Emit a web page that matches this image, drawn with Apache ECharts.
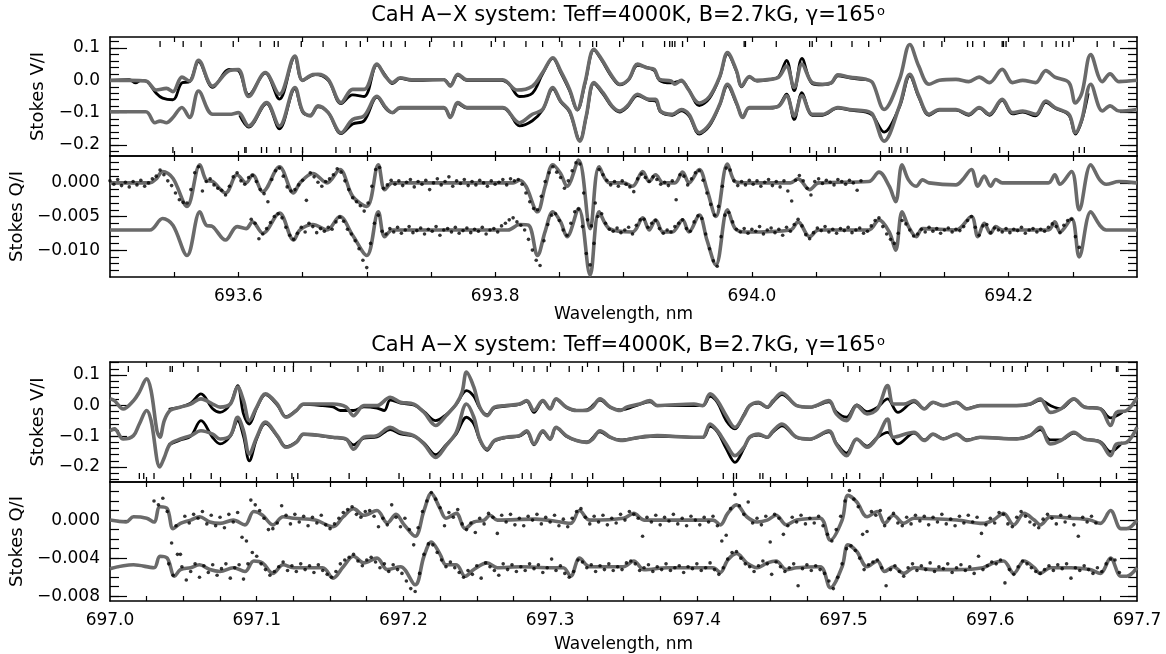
<!DOCTYPE html>
<html>
<head>
<meta charset="utf-8">
<title>CaH A-X Stokes profiles</title>
<script src="https://cdn.jsdelivr.net/npm/echarts@6.0.0/dist/echarts.min.js"></script>
<style>
  html, body { margin: 0; padding: 0; background: #fff; }
  #chart { width: 1166px; height: 654px; }
</style>
</head>
<body>
<div id="chart"></div>
<script>
// ---- panel 1 : 693.5 - 694.3 nm ----
const vModel1Up = [[693.500,0.000],[693.515,0.000],[693.528,-0.002],[693.536,-0.030],[693.544,-0.025],[693.549,-0.035],[693.556,0.010],[693.562,-0.002],[693.569,0.062],[693.580,-0.018],[693.593,0.030],[693.600,0.033],[693.608,-0.050],[693.621,0.024],[693.632,-0.043],[693.644,0.075],[693.650,0.000],[693.658,0.018],[693.662,0.019],[693.670,0.003],[693.680,-0.069],[693.689,-0.028],[693.698,-0.028],[693.708,0.050],[693.714,0.015],[693.720,-0.007],[693.726,0.008],[693.735,0.002],[693.760,0.002],[693.765,-0.018],[693.771,0.019],[693.778,0.002],[693.806,0.002],[693.809,-0.004],[693.817,-0.030],[693.829,-0.018],[693.837,0.024],[693.845,0.070],[693.851,0.029],[693.858,-0.028],[693.864,-0.090],[693.870,-0.007],[693.877,0.096],[693.883,0.065],[693.891,0.013],[693.897,-0.012],[693.904,0.003],[693.911,0.050],[693.918,0.039],[693.924,0.034],[693.928,0.003],[693.937,-0.002],[693.940,-0.012],[693.945,0.000],[693.950,-0.025],[693.959,-0.070],[693.967,-0.050],[693.975,0.012],[693.981,0.086],[693.988,0.030],[693.992,-0.018],[693.998,0.012],[694.003,0.000],[694.014,0.003],[694.021,0.010],[694.027,0.044],[694.033,-0.022],[694.039,0.050],[694.047,-0.007],[694.055,-0.012],[694.062,-0.007],[694.067,0.017],[694.076,0.010],[694.089,0.003],[694.094,-0.007],[694.103,-0.090],[694.115,0.003],[694.123,0.111],[694.130,0.044],[694.138,-0.012],[694.146,0.000],[694.159,0.003],[694.169,-0.004],[694.177,0.010],[694.185,-0.007],[694.195,0.034],[694.203,-0.007],[694.211,0.000],[694.221,-0.007],[694.229,0.030],[694.236,0.010],[694.247,-0.007],[694.252,-0.070],[694.257,-0.040],[694.264,0.080],[694.273,-0.004],[694.279,0.020],[694.286,-0.004],[694.300,0.000]];
const vData1Up = [[693.500,0.000],[693.515,0.002],[693.520,-0.008],[693.524,0.000],[693.529,-0.004],[693.536,-0.040],[693.541,-0.055],[693.549,-0.060],[693.556,-0.008],[693.562,-0.004],[693.569,0.058],[693.580,-0.022],[693.593,0.034],[693.600,0.030],[693.608,-0.045],[693.621,0.022],[693.632,-0.058],[693.644,0.072],[693.650,0.000],[693.660,0.018],[693.670,0.000],[693.680,-0.072],[693.689,-0.045],[693.698,-0.050],[693.708,0.048],[693.715,0.012],[693.720,-0.010],[693.726,0.006],[693.735,0.000],[693.760,0.002],[693.765,-0.015],[693.771,0.016],[693.778,0.000],[693.805,0.000],[693.811,-0.012],[693.819,-0.050],[693.829,-0.040],[693.837,0.020],[693.845,0.068],[693.851,0.025],[693.858,-0.032],[693.864,-0.092],[693.870,-0.010],[693.877,0.094],[693.883,0.062],[693.891,0.010],[693.897,-0.014],[693.904,0.002],[693.911,0.046],[693.918,0.040],[693.924,0.030],[693.928,0.000],[693.937,-0.008],[693.945,-0.002],[693.951,-0.030],[693.959,-0.078],[693.967,-0.055],[693.975,0.010],[693.981,0.082],[693.988,0.028],[693.992,-0.020],[693.998,0.010],[694.004,-0.002],[694.014,0.002],[694.021,0.012],[694.027,0.062],[694.033,-0.032],[694.039,0.068],[694.047,-0.010],[694.055,-0.014],[694.062,-0.008],[694.067,0.014],[694.076,0.008],[694.089,0.002]];
const vModel1Low = [[693.500,-0.097],[693.528,-0.097],[693.535,-0.131],[693.539,-0.126],[693.544,-0.131],[693.549,-0.115],[693.556,-0.084],[693.562,-0.115],[693.569,-0.033],[693.580,-0.105],[693.593,-0.105],[693.600,-0.100],[693.608,-0.141],[693.622,-0.069],[693.632,-0.141],[693.644,-0.022],[693.650,-0.095],[693.656,-0.110],[693.662,-0.079],[693.670,-0.100],[693.680,-0.162],[693.689,-0.121],[693.698,-0.110],[693.708,-0.049],[693.715,-0.085],[693.720,-0.100],[693.726,-0.084],[693.760,-0.084],[693.765,-0.115],[693.771,-0.069],[693.778,-0.084],[693.806,-0.084],[693.809,-0.090],[693.819,-0.131],[693.829,-0.105],[693.837,-0.090],[693.845,-0.022],[693.851,-0.064],[693.858,-0.095],[693.866,-0.188],[693.871,-0.110],[693.877,-0.007],[693.884,-0.038],[693.891,-0.079],[693.897,-0.095],[693.903,-0.079],[693.911,-0.043],[693.920,-0.059],[693.925,-0.059],[693.929,-0.095],[693.938,-0.105],[693.945,-0.090],[693.951,-0.105],[693.959,-0.162],[693.967,-0.136],[693.975,-0.074],[693.981,-0.012],[693.988,-0.069],[693.993,-0.115],[693.998,-0.084],[694.014,-0.084],[694.021,-0.080],[694.027,-0.048],[694.033,-0.110],[694.039,-0.048],[694.047,-0.105],[694.055,-0.105],[694.067,-0.084],[694.076,-0.090],[694.089,-0.095],[694.094,-0.105],[694.103,-0.188],[694.115,-0.079],[694.123,0.019],[694.130,-0.048],[694.138,-0.105],[694.146,-0.090],[694.159,-0.090],[694.169,-0.105],[694.177,-0.084],[694.185,-0.105],[694.195,-0.059],[694.203,-0.100],[694.211,-0.095],[694.221,-0.105],[694.229,-0.064],[694.236,-0.084],[694.247,-0.105],[694.252,-0.162],[694.257,-0.121],[694.264,-0.012],[694.273,-0.095],[694.279,-0.079],[694.286,-0.095],[694.300,-0.090]];
const vData1Low = [[693.601,-0.108],[693.608,-0.145],[693.622,-0.072],[693.632,-0.150],[693.644,-0.026],[693.650,-0.098],[693.656,-0.108],[693.662,-0.082],[693.670,-0.100],[693.680,-0.165],[693.689,-0.135],[693.698,-0.125],[693.708,-0.052],[693.715,-0.088],[693.720,-0.100],[693.726,-0.086],[693.760,-0.086],[693.765,-0.112],[693.771,-0.072],[693.778,-0.086],[693.806,-0.086],[693.811,-0.100],[693.819,-0.141],[693.829,-0.125],[693.837,-0.092],[693.845,-0.026],[693.851,-0.066],[693.858,-0.098],[693.866,-0.185],[693.871,-0.112],[693.877,-0.010],[693.884,-0.042],[693.891,-0.082],[693.897,-0.098],[693.903,-0.082],[693.911,-0.047],[693.920,-0.062],[693.925,-0.064],[693.929,-0.098],[693.938,-0.108],[693.945,-0.094],[693.951,-0.110],[693.959,-0.166],[693.967,-0.140],[693.975,-0.076],[693.981,-0.016],[693.988,-0.072],[693.993,-0.112],[693.998,-0.086],[694.014,-0.086],[694.021,-0.078],[694.027,-0.043],[694.033,-0.121],[694.039,-0.038],[694.047,-0.108],[694.055,-0.108],[694.067,-0.086],[694.076,-0.092],[694.089,-0.098],[694.094,-0.108],[694.103,-0.160],[694.115,-0.082],[694.123,0.014],[694.130,-0.052],[694.138,-0.108],[694.146,-0.092],[694.159,-0.092],[694.169,-0.108],[694.177,-0.086],[694.185,-0.108],[694.195,-0.062],[694.203,-0.104],[694.211,-0.098],[694.221,-0.110],[694.229,-0.068],[694.236,-0.086],[694.247,-0.108],[694.252,-0.166],[694.257,-0.125],[694.262,-0.040]];

// Stokes Q/I in units of 1e-3
const qModel1Up = [[693.500,0],[693.531,0],[693.536,0.6],[693.541,1.7],[693.549,0.7],[693.560,-3.5],[693.570,2.7],[693.575,0.4],[693.580,0.2],[693.590,-1.5],[693.599,1.2],[693.606,0],[693.611,1.2],[693.619,-1.3],[693.632,2.4],[693.643,-1.5],[693.648,0],[693.658,1.4],[693.669,0],[693.679,2.0],[693.689,-2.0],[693.700,-3.5],[693.709,2.7],[693.714,-1.0],[693.720,0],[693.760,0],[693.814,0],[693.819,0.4],[693.824,-0.5],[693.833,-4.3],[693.839,-0.5],[693.845,2.7],[693.851,1.4],[693.856,-0.5],[693.865,3.4],[693.874,-6.8],[693.881,2.4],[693.889,0],[693.900,0],[693.907,-0.5],[693.915,1.7],[693.920,0.2],[693.925,1.2],[693.931,0],[693.940,0],[693.946,1.6],[693.951,0],[693.959,2.0],[693.965,-1.0],[693.972,-5.0],[693.981,2.8],[693.987,0.2],[693.995,0],[694.030,0],[694.036,0.6],[694.045,-1.0],[694.052,0],[694.091,0.2],[694.099,1.6],[694.107,-0.5],[694.112,-2.8],[694.117,2.7],[694.122,0.45],[694.128,-0.5],[694.133,0.45],[694.138,0],[694.159,-0.3],[694.164,0.45],[694.171,2.0],[694.176,-0.5],[694.181,1.0],[694.186,-0.5],[694.190,0.5],[694.195,0],[694.231,0],[694.236,1.2],[694.240,-0.2],[694.249,1.7],[694.255,-4.0],[694.264,2.7],[694.271,0.45],[694.276,-0.2],[694.286,0.2],[694.300,0]];
const qModel1Low = [[693.500,-7.0],[693.531,-7.0],[693.541,-5.3],[693.549,-6.3],[693.560,-10.8],[693.570,-4.3],[693.575,-6.3],[693.580,-6.5],[693.590,-8.5],[693.599,-6.5],[693.606,-6.8],[693.611,-5.8],[693.619,-7.5],[693.632,-4.5],[693.643,-8.5],[693.648,-7.0],[693.658,-6.2],[693.669,-7.0],[693.679,-5.0],[693.689,-7.8],[693.700,-10.8],[693.709,-4.3],[693.714,-8.0],[693.720,-7.0],[693.810,-7.0],[693.819,-6.2],[693.826,-6.3],[693.833,-10.8],[693.839,-7.2],[693.845,-4.3],[693.851,-5.8],[693.856,-8.0],[693.865,-3.8],[693.874,-13.7],[693.881,-4.3],[693.889,-6.8],[693.907,-7.3],[693.915,-5.2],[693.920,-7.0],[693.925,-5.5],[693.931,-7.3],[693.938,-7.3],[693.946,-5.5],[693.951,-7.3],[693.959,-4.8],[693.965,-8.5],[693.972,-12.2],[693.981,-4.0],[693.987,-6.8],[693.995,-7.3],[694.030,-7.0],[694.036,-5.8],[694.045,-8.0],[694.052,-7.0],[694.091,-7.0],[694.099,-5.5],[694.107,-7.3],[694.112,-10.0],[694.117,-4.3],[694.122,-6.5],[694.128,-8.0],[694.133,-6.8],[694.159,-7.0],[694.171,-5.0],[694.176,-8.0],[694.181,-6.0],[694.186,-7.5],[694.190,-6.5],[694.195,-7.0],[694.231,-7.0],[694.236,-5.8],[694.240,-7.3],[694.249,-5.3],[694.255,-11.0],[694.264,-4.3],[694.271,-6.3],[694.276,-7.0],[694.300,-7.0]];
// observed Q/I points, sampled every 0.003 nm
const qData1UpStart = 693.500;
const qData1Up = [0.3,-0.2,0.5,-0.4,0.1,-0.6,0.2,-0.3,0.4,-0.5,0.0,0.6,1.0,1.9,1.2,0.3,-0.4,-1.5,-2.5,-2.9,-3.0,-1.0,1.5,2.4,-1.2,0.2,0.6,-0.3,-0.8,-1.1,-1.8,-0.5,0.9,1.5,0.3,-0.2,0.8,1.1,0.2,-1.0,-1.6,-2.8,0.5,1.8,2.2,1.0,-0.6,-1.2,-1.0,-0.3,0.4,-2.6,1.5,0.9,0.1,-0.5,0.2,0.6,1.2,2.1,1.6,0.3,-1.0,-2.2,-2.8,-3.4,-4.2,-3.0,-0.5,2.0,2.3,-0.8,-0.3,0.4,-0.2,0.3,-0.4,0.1,0.5,-0.6,0.2,-0.2,0.4,-1.0,0.0,0.6,-0.3,0.2,0.9,-0.5,0.3,-0.1,0.5,-0.4,0.2,-0.3,0.4,0.0,-0.5,0.3,-0.2,0.1,0.5,-0.3,0.6,0.3,0.5,-0.2,-1.5,-2.8,-3.8,-4.0,-2.0,0.2,1.5,2.4,1.6,0.8,-0.8,0.3,1.8,3.0,2.8,-1.5,-5.5,-6.4,-3.0,2.0,1.2,0.4,-0.3,0.2,-0.5,0.3,-0.2,-0.6,-1.3,0.6,1.3,0.8,0.2,0.9,0.5,-0.2,0.1,-0.4,0.3,-2.5,1.2,1.0,-0.3,0.6,1.5,1.8,0.4,-1.5,-3.2,-4.8,-3.5,-0.5,2.2,1.9,0.3,-0.4,0.2,-0.3,0.4,-0.2,0.3,-0.5,0.1,0.5,-0.4,0.2,-0.6,0.3,-1.2,-2.7,0.4,1.1,0.3,-0.8,-1.8,0.2,0.6,-0.1,0.4,0.1,-0.3,0.5,0.2,-0.2,0.4,0.0,-1.1,0.3];
const qData1LowStart = 693.610;
const qData1Low = [-5.4,-6.0,-8.3,-7.6,-6.8,-5.9,-5.0,-4.6,-5.2,-6.6,-7.8,-8.4,-7.5,-6.6,-7.3,-6.0,-6.5,-7.4,-6.8,-7.2,-6.6,-6.9,-5.8,-5.1,-5.7,-6.9,-7.6,-8.6,-9.8,-11.5,-12.6,-9.0,-6.0,-4.8,-7.2,-7.6,-6.8,-7.3,-6.6,-7.5,-7.0,-6.5,-7.4,-7.1,-6.7,-7.6,-6.9,-7.2,-6.5,-7.8,-7.0,-6.8,-7.3,-6.6,-7.5,-7.1,-6.7,-7.4,-6.9,-7.2,-6.6,-7.6,-7.0,-6.8,-7.3,-6.4,-6.0,-5.5,-5.2,-5.8,-6.3,-7.0,-8.4,-10.0,-11.5,-12.3,-8.6,-6.2,-4.8,-4.6,-5.6,-7.0,-7.8,-6.0,-4.3,-3.9,-6.5,-10.5,-12.2,-9.0,-5.0,-4.6,-6.0,-6.9,-7.2,-6.7,-7.4,-7.0,-6.6,-7.6,-6.3,-5.5,-5.4,-6.6,-6.0,-5.6,-6.8,-7.5,-7.0,-7.3,-6.5,-6.0,-5.5,-6.8,-7.2,-5.8,-4.9,-5.3,-7.6,-9.8,-11.6,-12.4,-8.0,-4.8,-4.4,-5.8,-6.9,-7.3,-6.8,-7.5,-6.9,-7.2,-6.5,-7.6,-7.0,-6.7,-7.4,-6.9,-7.8,-6.6,-7.2,-6.2,-5.4,-6.4,-7.7,-8.3,-7.4,-6.7,-7.1,-6.5,-7.3,-6.9,-7.5,-6.8,-7.1,-6.6,-7.4,-7.0,-6.7,-7.5,-7.2,-6.4,-5.6,-5.2,-6.5,-7.6,-8.4,-9.0,-7.5,-5.6,-6.1,-7.0,-7.9,-7.6,-6.9,-7.3,-6.6,-7.2,-6.8,-7.5,-7.0,-6.7,-7.3,-6.9,-7.1,-6.5,-5.6,-5.0,-6.6,-7.8,-6.4,-6.2,-7.4,-6.7,-7.0,-7.3,-6.8,-7.4,-6.9,-7.1,-6.6,-7.5,-7.0,-6.8,-7.3,-6.9,-7.2,-6.6,-6.1,-6.5,-7.4,-6.3,-5.6,-5.4,-8.0,-9.6];
const qStep1 = 0.003;

const linesTop1 = [693.539,693.557,693.571,693.596,693.617,693.628,693.631,693.649,693.666,693.684,693.695,693.713,693.719,693.730,693.749,693.768,693.774,693.797,693.807,693.824,693.837,693.852,693.866,693.876,693.879,693.897,693.915,693.932,693.936,693.938,693.940,693.946,693.963,693.994,693.995,694.019,694.045,694.047,694.062,694.078,694.091,694.134,694.148,694.168,694.172,694.181,694.195,694.196,694.198,694.212,694.226,694.237,694.242,694.247,694.269,694.282];
const linesBot1 = [693.549,693.564,693.605,693.606,693.618,693.622,693.632,693.641,693.650,693.676,693.687,693.703,693.827,693.840,693.865,693.874,693.888,693.909,693.920,693.932,693.943,693.966,693.977,694.030,694.045,694.060,694.065,694.107,694.109,694.116,694.121,694.171,694.193,694.255,694.259];

// ---- panel 2 : 697.0 - 697.7 nm ----
const vModel2Up = [[697.000,0.022],[697.003,0.016],[697.009,-0.011],[697.016,0.016],[697.020,0.044],[697.025,0.087],[697.028,0.049],[697.032,-0.082],[697.034,-0.103],[697.037,-0.049],[697.041,-0.016],[697.048,-0.005],[697.055,0.005],[697.062,0.022],[697.070,0.005],[697.075,-0.005],[697.082,0.005],[697.087,0.060],[697.091,0.016],[697.095,-0.049],[697.100,-0.005],[697.106,0.038],[697.114,0.005],[697.120,-0.038],[697.127,-0.016],[697.132,0.005],[697.152,0.005],[697.161,-0.005],[697.166,-0.033],[697.173,0.000],[697.182,0.000],[697.191,0.027],[697.198,0.011],[697.207,0.005],[697.214,-0.022],[697.222,-0.065],[697.229,-0.033],[697.236,0.005],[697.240,0.044],[697.243,0.109],[697.248,0.060],[697.252,-0.005],[697.257,-0.033],[697.262,-0.005],[697.270,0.000],[697.279,0.005],[697.284,0.016],[697.289,-0.016],[697.295,0.016],[697.300,-0.011],[697.304,0.022],[697.311,-0.005],[697.318,-0.016],[697.325,-0.016],[697.329,-0.005],[697.334,0.022],[697.341,-0.005],[697.348,-0.016],[697.352,-0.005],[697.361,0.005],[697.368,0.016],[697.373,0.000],[697.398,0.005],[697.404,0.000],[697.409,0.038],[697.414,0.016],[697.420,-0.033],[697.426,-0.071],[697.432,-0.033],[697.436,0.000],[697.442,0.011],[697.448,-0.005],[697.452,0.016],[697.458,0.041],[697.468,0.000],[697.477,-0.005],[697.490,0.016],[697.495,-0.027],[697.502,-0.049],[697.509,0.000],[697.516,-0.027],[697.523,-0.011],[697.530,0.065],[697.534,0.005],[697.541,0.005],[697.548,0.016],[697.555,-0.011],[697.561,0.011],[697.568,0.000],[697.577,0.011],[697.584,-0.011],[697.593,0.000],[697.618,0.000],[697.627,0.005],[697.634,0.022],[697.641,-0.022],[697.648,-0.011],[697.657,0.022],[697.664,-0.005],[697.675,-0.011],[697.682,-0.065],[697.686,-0.022],[697.693,-0.016],[697.700,0.027]];
const vData2Up = [[697.040,-0.012],[697.048,-0.005],[697.055,0.008],[697.062,0.038],[697.070,-0.010],[697.075,-0.022],[697.082,0.005],[697.087,0.065],[697.091,-0.027],[697.095,-0.060],[697.100,-0.008],[697.106,0.036],[697.114,0.002],[697.120,-0.036],[697.127,-0.016],[697.132,0.004],[697.145,0.000],[697.152,-0.004],[697.157,-0.016],[697.166,-0.016],[697.173,-0.004],[697.182,-0.008],[697.187,-0.016],[697.191,0.018],[697.198,0.008],[697.207,0.002],[697.214,-0.020],[697.222,-0.049],[697.229,-0.030],[697.236,0.004],[697.243,0.049],[697.248,0.030],[697.252,-0.008],[697.257,-0.030],[697.262,-0.008],[697.270,-0.002],[697.279,0.004],[697.284,0.014],[697.289,-0.022],[697.295,0.014],[697.300,-0.010],[697.304,0.020],[697.311,-0.006],[697.318,-0.016],[697.325,-0.014],[697.334,0.018],[697.341,-0.006],[697.348,-0.014],[697.361,0.004],[697.368,0.012],[697.373,0.000],[697.404,0.000],[697.409,0.030],[697.414,0.010],[697.420,-0.049],[697.426,-0.076],[697.432,-0.030],[697.436,0.000],[697.442,0.008],[697.448,-0.006],[697.452,0.012],[697.458,0.036],[697.468,0.000],[697.477,-0.006],[697.490,0.012],[697.495,-0.020],[697.502,-0.038],[697.509,0.002],[697.516,-0.020],[697.523,-0.006],[697.530,0.022],[697.537,-0.022],[697.548,0.012],[697.555,-0.010],[697.561,0.010],[697.568,0.000],[697.577,0.010],[697.584,-0.010],[697.593,0.000],[697.618,0.000],[697.627,0.004],[697.634,0.018],[697.641,0.000],[697.648,-0.010],[697.657,0.020],[697.664,-0.004],[697.675,-0.010],[697.682,-0.040],[697.690,-0.022]];
const vModel2Low = [[697.000,-0.082],[697.003,-0.076],[697.009,-0.109],[697.016,-0.098],[697.020,-0.060],[697.025,-0.016],[697.028,-0.049],[697.034,-0.200],[697.037,-0.169],[697.041,-0.125],[697.048,-0.109],[697.055,-0.098],[697.062,-0.082],[697.070,-0.093],[697.075,-0.109],[697.082,-0.098],[697.087,-0.038],[697.091,-0.082],[697.095,-0.158],[697.100,-0.103],[697.106,-0.054],[697.114,-0.098],[697.120,-0.136],[697.127,-0.120],[697.132,-0.093],[697.152,-0.103],[697.161,-0.109],[697.166,-0.142],[697.173,-0.103],[697.182,-0.098],[697.191,-0.071],[697.198,-0.087],[697.207,-0.098],[697.214,-0.125],[697.222,-0.169],[697.229,-0.131],[697.236,-0.087],[697.243,0.005],[697.248,-0.038],[697.252,-0.109],[697.257,-0.142],[697.262,-0.114],[697.270,-0.103],[697.279,-0.098],[697.284,-0.082],[697.289,-0.125],[697.295,-0.082],[697.300,-0.109],[697.304,-0.071],[697.311,-0.098],[697.318,-0.114],[697.325,-0.120],[697.329,-0.109],[697.334,-0.082],[697.341,-0.103],[697.348,-0.114],[697.361,-0.103],[697.373,-0.098],[697.398,-0.103],[697.404,-0.103],[697.409,-0.060],[697.414,-0.082],[697.420,-0.125],[697.426,-0.163],[697.432,-0.136],[697.436,-0.103],[697.442,-0.093],[697.448,-0.103],[697.452,-0.082],[697.458,-0.060],[697.468,-0.103],[697.477,-0.109],[697.490,-0.082],[697.495,-0.125],[697.502,-0.163],[697.509,-0.109],[697.516,-0.136],[697.523,-0.103],[697.530,-0.044],[697.534,-0.103],[697.548,-0.087],[697.555,-0.114],[697.561,-0.093],[697.568,-0.109],[697.577,-0.093],[697.584,-0.114],[697.593,-0.103],[697.618,-0.109],[697.627,-0.098],[697.634,-0.071],[697.641,-0.125],[697.648,-0.114],[697.657,-0.087],[697.664,-0.109],[697.675,-0.120],[697.682,-0.163],[697.686,-0.125],[697.693,-0.120],[697.700,-0.071]];
const vData2Low = [[697.040,-0.128],[697.048,-0.112],[697.055,-0.100],[697.062,-0.049],[697.070,-0.104],[697.075,-0.125],[697.082,-0.100],[697.087,-0.049],[697.091,-0.100],[697.095,-0.180],[697.100,-0.108],[697.106,-0.058],[697.114,-0.100],[697.120,-0.134],[697.127,-0.118],[697.132,-0.094],[697.152,-0.104],[697.161,-0.110],[697.166,-0.128],[697.173,-0.106],[697.182,-0.102],[697.191,-0.078],[697.198,-0.092],[697.207,-0.100],[697.214,-0.122],[697.222,-0.160],[697.229,-0.128],[697.236,-0.092],[697.243,-0.038],[697.248,-0.060],[697.252,-0.112],[697.257,-0.146],[697.262,-0.116],[697.270,-0.104],[697.279,-0.100],[697.284,-0.086],[697.289,-0.128],[697.295,-0.086],[697.300,-0.110],[697.304,-0.072],[697.311,-0.100],[697.318,-0.114],[697.325,-0.118],[697.334,-0.086],[697.341,-0.104],[697.348,-0.112],[697.361,-0.104],[697.373,-0.100],[697.404,-0.104],[697.409,-0.068],[697.414,-0.086],[697.420,-0.140],[697.426,-0.185],[697.432,-0.140],[697.436,-0.104],[697.442,-0.096],[697.448,-0.104],[697.452,-0.086],[697.458,-0.066],[697.468,-0.104],[697.477,-0.110],[697.490,-0.086],[697.495,-0.122],[697.502,-0.155],[697.509,-0.110],[697.516,-0.132],[697.523,-0.104],[697.530,-0.087],[697.537,-0.125],[697.548,-0.090],[697.555,-0.112],[697.561,-0.094],[697.568,-0.108],[697.577,-0.094],[697.584,-0.112],[697.593,-0.104],[697.618,-0.108],[697.627,-0.098],[697.634,-0.078],[697.641,-0.112],[697.648,-0.112],[697.657,-0.090],[697.664,-0.108],[697.675,-0.118],[697.682,-0.150],[697.690,-0.120]];

const qModel2Up = [[697.000,0],[697.011,-0.2],[697.016,0.35],[697.025,0.2],[697.030,-0.2],[697.034,1.4],[697.039,1.2],[697.043,-0.9],[697.048,-0.35],[697.055,0],[697.061,0.35],[697.068,-0.2],[697.075,-0.35],[697.084,0],[697.092,-0.5],[697.098,0.9],[697.104,0.5],[697.111,-0.5],[697.118,0.35],[697.125,0.2],[697.140,0],[697.152,-0.7],[697.159,0.35],[697.166,1.2],[697.173,0.5],[697.182,1.0],[697.189,-0.3],[697.195,0.6],[697.200,-0.4],[697.208,-1.7],[697.214,1.0],[697.219,2.8],[697.225,1.2],[697.229,0.2],[697.236,0.7],[697.242,-0.9],[697.248,-0.2],[697.255,0],[697.259,0.5],[697.264,0],[697.290,0.1],[697.307,-0.2],[697.314,-0.35],[697.320,1.0],[697.327,0],[697.350,0.2],[697.357,0.7],[697.364,0],[697.411,0],[697.416,-0.5],[697.421,0.7],[697.427,1.6],[697.434,0.35],[697.441,-0.2],[697.448,0],[697.454,0.5],[697.461,-0.5],[697.468,0],[697.484,0.2],[697.491,-2.1],[697.499,0],[697.503,2.6],[697.509,1.9],[697.516,0.35],[697.523,0.9],[697.528,-0.35],[697.534,0.5],[697.541,-0.35],[697.548,0.2],[697.577,0],[697.595,-0.35],[697.602,0],[697.609,0.7],[697.616,-0.5],[697.623,0.7],[697.630,0],[697.634,-0.5],[697.641,0.35],[697.655,0.2],[697.668,0],[697.675,-0.35],[697.682,1.0],[697.689,-0.9],[697.693,-0.9],[697.700,0]];
const qModel2Low = [[697.000,-5.1],[697.016,-4.7],[697.030,-5.0],[697.034,-3.8],[697.039,-4.0],[697.044,-5.9],[697.048,-5.2],[697.055,-5.0],[697.061,-4.7],[697.068,-5.2],[697.075,-5.4],[697.084,-5.0],[697.092,-5.4],[697.098,-4.3],[697.104,-4.5],[697.111,-5.6],[697.118,-4.7],[697.125,-5.0],[697.145,-5.0],[697.152,-6.1],[697.159,-4.9],[697.166,-3.8],[697.173,-4.5],[697.182,-4.0],[697.189,-5.2],[697.198,-4.9],[697.208,-6.8],[697.214,-3.8],[697.219,-2.3],[697.225,-3.6],[697.229,-4.7],[697.236,-4.7],[697.242,-5.9],[697.248,-5.2],[697.257,-4.5],[697.264,-5.0],[697.280,-4.9],[697.300,-5.0],[697.309,-5.0],[697.314,-5.9],[697.320,-4.0],[697.327,-4.9],[697.350,-4.9],[697.357,-4.3],[697.364,-5.2],[697.380,-5.0],[697.411,-5.0],[697.416,-5.5],[697.421,-4.2],[697.427,-3.5],[697.434,-4.5],[697.441,-5.0],[697.448,-4.5],[697.454,-4.3],[697.461,-5.2],[697.468,-5.0],[697.484,-4.9],[697.491,-7.1],[697.499,-4.9],[697.503,-2.6],[697.509,-3.3],[697.516,-4.9],[697.523,-4.3],[697.528,-5.4],[697.534,-4.9],[697.541,-5.6],[697.548,-5.0],[697.561,-5.2],[697.577,-5.2],[697.595,-5.0],[697.602,-4.5],[697.609,-4.3],[697.616,-5.6],[697.623,-4.3],[697.630,-5.0],[697.634,-5.6],[697.641,-5.0],[697.655,-5.0],[697.668,-5.2],[697.675,-5.6],[697.682,-4.0],[697.689,-5.9],[697.693,-5.9],[697.700,-5.0]];
const qData2UpStart = 697.030;
const qData2Up = [2.0,1.6,2.3,0.9,-2.4,-0.6,-3.6,0.4,-0.3,0.6,0.2,0.9,-0.4,0.5,-0.6,0.3,-0.8,0.6,-0.2,0.8,-1.8,-2.2,2.1,1.6,1.0,0.2,-1.0,-0.9,-0.3,1.5,0.5,-0.4,0.6,-0.2,0.4,-0.6,0.3,-0.3,0.5,-0.5,-0.9,-0.4,0.2,0.8,1.1,1.4,0.6,0.3,0.9,1.0,0.4,-0.7,0.2,-0.5,1.6,0.3,-0.7,0.2,-1.0,-2.6,-0.8,0.9,2.0,2.9,2.2,1.3,-0.6,0.8,0.3,1.1,-0.4,-1.0,-0.3,-1.3,0.2,-0.4,0.7,0.3,-1.4,0.5,-0.2,0.6,-0.5,0.2,-0.6,0.4,0.0,0.6,-0.4,0.3,-0.2,0.5,-0.6,0.1,-0.7,0.2,0.9,1.2,0.3,-0.4,0.4,-0.2,0.5,-0.5,0.2,-0.3,0.6,0.0,0.9,0.6,0.2,-1.7,0.3,-0.2,0.5,-0.5,0.3,-0.1,0.6,-0.4,0.2,-0.6,0.4,0.0,-0.5,0.3,-0.2,0.4,-0.6,-2.2,-1.6,1.2,2.7,1.5,0.6,1.9,-0.3,0.2,-0.5,0.4,-2.3,0.6,0.2,-1.5,-0.6,0.3,-0.2,0.5,-0.4,0.2,-0.3,0.4,-0.6,-1.5,-2.2,-1.0,0.4,2.0,3.1,2.2,1.4,-1.5,-1.2,0.9,0.5,1.0,-0.6,0.2,0.7,-0.3,-0.6,0.3,-0.4,0.5,-0.1,0.4,-0.5,0.3,-0.2,0.6,-0.4,0.1,-0.6,0.4,-0.3,0.5,-0.2,0.3,-1.4,-0.5,0.2,-0.3,0.8,0.6,-0.4,-0.7,0.3,0.9,0.4,-0.2,-0.5,-0.8,0.1,0.6,0.2,-0.4,0.5,-0.2,0.4,-0.5,-1.7,0.3,-0.2,0.4,-0.3];
const qData2LowStart = 697.040;
const qData2Low = [-4.6,-5.8,-3.6,-4.9,-6.3,-5.4,-4.6,-6.0,-4.8,-5.5,-4.7,-5.8,-5.1,-4.6,-6.1,-5.0,-4.7,-6.2,-4.6,-3.4,-3.8,-4.6,-5.2,-5.8,-5.4,-4.9,-4.4,-5.3,-4.8,-5.4,-4.6,-5.2,-4.8,-5.5,-4.7,-5.3,-5.7,-6.0,-5.4,-4.6,-4.2,-3.9,-3.6,-4.3,-4.8,-4.2,-3.9,-4.4,-5.0,-4.6,-5.4,-4.7,-5.2,-5.6,-6.4,-7.2,-7.5,-5.6,-3.6,-2.5,-2.6,-3.4,-4.2,-4.9,-4.4,-5.0,-5.5,-6.0,-5.3,-5.7,-4.8,-6.1,-4.5,-4.9,-5.3,-5.8,-4.6,-5.2,-4.7,-5.4,-4.9,-5.3,-4.6,-5.1,-4.7,-5.5,-5.0,-4.1,-5.3,-4.8,-5.6,-6.0,-5.4,-4.2,-4.4,-5.0,-4.7,-5.4,-4.8,-5.2,-4.6,-5.3,-4.9,-5.2,-4.5,-4.3,-4.6,-5.3,-5.0,-4.7,-5.4,-4.9,-5.2,-4.6,-5.3,-5.0,-4.8,-5.5,-4.9,-5.1,-4.6,-5.3,-5.0,-4.5,-5.2,-5.7,-5.0,-4.1,-3.4,-3.3,-4.0,-4.6,-4.9,-5.4,-4.8,-4.3,-4.6,-5.7,-4.4,-4.9,-5.4,-5.0,-4.6,-6.9,-5.1,-4.7,-5.3,-4.8,-5.2,-5.6,-6.4,-7.2,-6.0,-4.6,-3.0,-2.7,-3.2,-4.0,-5.2,-4.7,-4.4,-4.2,-5.0,-6.9,-5.2,-4.8,-5.4,-5.9,-5.0,-4.6,-5.3,-4.8,-5.2,-4.5,-5.4,-4.9,-5.1,-4.6,-5.5,-5.0,-4.7,-5.3,-4.9,-5.6,-3.8,-5.2,-4.8,-4.4,-4.6,-4.2,-6.6,-5.2,-5.7,-4.9,-4.3,-4.6,-5.0,-5.4,-5.6,-5.2,-4.8,-5.3,-4.7,-5.1,-4.6,-6.1,-5.0,-5.3,-4.8,-5.2,-5.6,-5.0,-5.4,-4.6,-4.1,-4.2,-5.5];
const qStep2 = 0.003;

const linesTop2 = [697.0125,697.041,697.0425,697.060,697.093,697.112,697.119,697.125,697.137,697.169,697.184,697.186,697.207,697.218,697.232,697.259,697.281,697.289,697.298,697.313,697.322,697.333,697.350,697.357,697.373,697.390,697.417,697.437,697.454,697.503,697.511,697.532,697.544,697.561,697.568,697.584,697.609,697.615,697.624,697.639,697.669,697.686,697.687];
const linesBot2 = [697.020,697.023,697.030,697.055,697.069,697.093,697.114,697.124,697.128,697.163,697.197,697.218,697.234,697.240,697.254,697.267,697.281,697.287,697.301,697.315,697.329,697.418,697.425,697.427,697.443,697.445,697.461,697.492,697.502,697.511,697.527,697.560,697.646,697.686];

// axis ticks / labels
const xLabels1 = [693.6, 693.8, 694.0, 694.2];
const xTicks1 = [693.55,693.6,693.65,693.7,693.75,693.8,693.85,693.9,693.95,694.0,694.05,694.1,694.15,694.2,694.25];
const xLabels2 = [697.0,697.1,697.2,697.3,697.4,697.5,697.6,697.7];
const xTicks2 = [697.025,697.05,697.075,697.1,697.125,697.15,697.175,697.2,697.225,697.25,697.275,697.3,697.325,697.35,697.375,697.4,697.425,697.45,697.475,697.5,697.525,697.55,697.575,697.6,697.625,697.65,697.675];
const vMajor = [-0.2, -0.1, 0.0, 0.1];
const vMinor = [-0.22,-0.2,-0.18,-0.16,-0.14,-0.12,-0.1,-0.08,-0.06,-0.04,-0.02,0,0.02,0.04,0.06,0.08,0.1,0.12];
const vMinor2 = [-0.24,-0.22,-0.2,-0.18,-0.16,-0.14,-0.12,-0.1,-0.08,-0.06,-0.04,-0.02,0,0.02,0.04,0.06,0.08,0.1,0.12,0.14];
const q1Major = [-10, -5, 0];
const q1Minor = [-13,-12,-11,-10,-9,-8,-7,-6,-5,-4,-3,-2,-1,0,1,2,3];
const q2Major = [-8, -4, 0];
const q2Minor = [-8,-7,-6,-5,-4,-3,-2,-1,0,1,2,3];

const TITLE = 'CaH A\u2212X system: Teff=4000K, B=2.7kG, \u03b3=165{o|o}';
const FONT = 'DejaVu Sans';
const GRAY = '#6a6a6a';

const chart = echarts.init(document.getElementById('chart'));

const minus = s => s.replace('-', '\u2212');
const grids = [
  {left: 110, top: 37, width: 1027, height: 119},
  {left: 110, top: 156, width: 1027, height: 121},
  {left: 110, top: 362, width: 1027, height: 120},
  {left: 110, top: 482, width: 1027, height: 120}
];

function xAxesFor(g, min, max, ticks, labels, showLabels) {
  const base = {
    type: 'value', gridIndex: g, min: min, max: max,
    axisLine: {show: true, onZero: false, lineStyle: {color: '#000', width: 1.6}},
    splitLine: {show: false}
  };
  return [
    Object.assign({}, base, {
      position: 'bottom',
      axisTick: {show: true, inside: true, length: 5, customValues: ticks, lineStyle: {color: '#000', width: 1.2}},
      axisLabel: {show: showLabels, customValues: labels, margin: 11, color: '#000',
        fontFamily: FONT, fontSize: 17, formatter: v => v.toFixed(1)},
      name: showLabels ? 'Wavelength, nm' : '', nameLocation: 'middle', nameGap: g === 1 ? 29 : 35,
      nameTextStyle: {fontFamily: FONT, fontSize: 17, color: '#000'}
    }),
    Object.assign({}, base, {
      position: 'top',
      axisTick: {show: true, inside: true, length: 5, customValues: ticks, lineStyle: {color: '#000', width: 1.2}},
      axisLabel: {show: false}
    })
  ];
}

function yAxesFor(g, min, max, major, minor, fmt, name, nameGap) {
  const base = {type: 'value', gridIndex: g, min: min, max: max, splitLine: {show: false}};
  const line = {show: true, onZero: false, lineStyle: {color: '#000', width: 1.6}};
  const tick = (vals, len) => ({show: true, inside: true, length: len, customValues: vals, lineStyle: {color: '#000', width: 1.2}});
  return [
    Object.assign({}, base, {position: 'left', axisLine: line, axisTick: tick(major, 17),
      axisLabel: {show: true, customValues: major, margin: 10, color: '#000', fontFamily: FONT, fontSize: 17, formatter: fmt},
      name: name, nameLocation: 'middle', nameGap: nameGap, nameRotate: 90,
      nameTextStyle: {fontFamily: FONT, fontSize: 18, color: '#000'}}),
    Object.assign({}, base, {position: 'left', axisLine: {show: false}, axisTick: tick(minor, 9), axisLabel: {show: false}}),
    Object.assign({}, base, {position: 'right', axisLine: line, axisTick: tick(major, 17), axisLabel: {show: false}}),
    Object.assign({}, base, {position: 'right', axisLine: {show: false}, axisTick: tick(minor, 9), axisLabel: {show: false}})
  ];
}

const fmtV = v => minus(v.toFixed(1));
const fmtQ = v => minus((v / 1000).toFixed(3));

const xAxis = [].concat(
  xAxesFor(0, 693.5, 694.3, xTicks1, xLabels1, false),
  xAxesFor(1, 693.5, 694.3, xTicks1, xLabels1, true),
  xAxesFor(2, 697.0, 697.7, xTicks2, xLabels2, false),
  xAxesFor(3, 697.0, 697.7, xTicks2, xLabels2, true)
);
const yAxis = [].concat(
  yAxesFor(0, -0.234, 0.134, vMajor, vMinor, fmtV, 'Stokes V/I', 58),
  yAxesFor(1, -14, 4, q1Major, q1Minor, fmtQ, 'Stokes Q/I', 83),
  yAxesFor(2, -0.249, 0.142, vMajor, vMinor2, fmtV, 'Stokes V/I', 58),
  yAxesFor(3, -8.5, 4, q2Major, q2Minor, fmtQ, 'Stokes Q/I', 83)
);

const sampled = (start, step, vals) => vals.map((v, i) => [+(start + i * step).toFixed(4), v]);

function model(g, data) {
  return {type: 'line', xAxisIndex: 2 * g, yAxisIndex: 4 * g, data: data, smooth: 0.35,
    symbol: 'none', z: 3, lineStyle: {color: GRAY, width: 3.6}};
}
function obsLine(g, data) {
  return {type: 'line', xAxisIndex: 2 * g, yAxisIndex: 4 * g, data: data, smooth: 0.35,
    symbol: 'none', z: 2, lineStyle: {color: '#000', width: 2.8}};
}
function obsDots(g, data) {
  return {type: 'scatter', xAxisIndex: 2 * g, yAxisIndex: 4 * g, data: data,
    symbol: 'circle', symbolSize: 3.6, z: 4, itemStyle: {color: '#000'}};
}
function lineMarks(g, list, atTop) {
  return {type: 'custom', xAxisIndex: 2 * g, yAxisIndex: 4 * g, z: 5,
    data: list.map(v => [v, 0]),
    renderItem: (params, api) => {
      const x = api.coord([api.value(0), 0])[0];
      const cs = params.coordSys;
      const y1 = atTop ? cs.y + 4 : cs.y + cs.height - 9;
      return {type: 'line', shape: {x1: x, y1: y1, x2: x, y2: y1 + 6},
        style: {stroke: '#000', lineWidth: 1.3}};
    }};
}

const titleStyle = {fontFamily: FONT, fontSize: 21, fontWeight: 'normal', color: '#000',
  rich: {o: {fontFamily: FONT, fontSize: 13, color: '#000', padding: [0, 0, 9, 1]}}};

chart.setOption({
  animation: false,
  backgroundColor: '#fff',
  title: [
    {text: TITLE, left: 623, top: 0, textAlign: 'center', textStyle: titleStyle},
    {text: TITLE, left: 623, top: 330, textAlign: 'center', textStyle: titleStyle}
  ],
  grid: grids,
  xAxis: xAxis,
  yAxis: yAxis,
  series: [
    obsLine(0, vData1Up), obsLine(0, vData1Low),
    model(0, vModel1Up), model(0, vModel1Low),
    lineMarks(0, linesTop1, true), lineMarks(0, linesBot1, false),
    model(1, qModel1Up), model(1, qModel1Low),
    obsDots(1, sampled(qData1UpStart, qStep1, qData1Up)),
    obsDots(1, sampled(qData1LowStart, qStep1, qData1Low)),
    obsLine(2, vData2Up), obsLine(2, vData2Low),
    model(2, vModel2Up), model(2, vModel2Low),
    lineMarks(2, linesTop2, true), lineMarks(2, linesBot2, false),
    model(3, qModel2Up), model(3, qModel2Low),
    obsDots(3, sampled(qData2UpStart, qStep2, qData2Up)),
    obsDots(3, sampled(qData2LowStart, qStep2, qData2Low))
  ]
});
</script>
</body>
</html>
